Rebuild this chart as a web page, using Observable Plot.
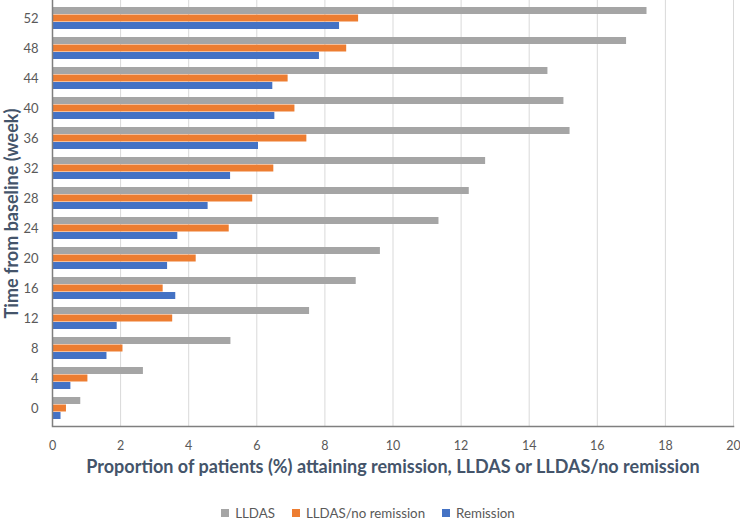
<!DOCTYPE html>
<html>
<head>
<meta charset="utf-8">
<script src="https://cdn.jsdelivr.net/npm/d3@7"></script>
<script src="https://cdn.jsdelivr.net/npm/@observablehq/plot@0.6"></script>
<style>
  html, body { margin: 0; padding: 0; background: #fff; }
  #chart { width: 740px; }
  .legend { display: flex; justify-content: center; align-items: center; gap: 17px; line-height: 16px;
    font-family: Lato, sans-serif; font-size: 13.3px; color: #595959; margin-top: 15px; margin-left: -4px; }
  .legend span.item { display: flex; align-items: center; }
  .legend span.sw { display: inline-block; width: 8px; height: 8px; margin-right: 6px; }
</style>
</head>
<body>
<div id="chart"></div>
<script>
const weeks = [0, 4, 8, 12, 16, 20, 24, 28, 32, 36, 40, 44, 48, 52];
const lldas = [0.83, 2.67, 5.24, 7.55, 8.92, 9.63, 11.35, 12.24, 12.72, 15.20, 15.02, 14.55, 16.86, 17.46];
const lldasNoRemission = [0.41, 1.04, 2.07, 3.53, 3.25, 4.22, 5.19, 5.88, 6.50, 7.47, 7.12, 6.92, 8.64, 8.99];
const remission = [0.25, 0.54, 1.60, 1.90, 3.62, 3.38, 3.68, 4.57, 5.23, 6.05, 6.53, 6.47, 7.84, 8.43];
const seriesNames = ["LLDAS", "LLDAS/no remission", "Remission"];
const seriesColors = ["#A5A5A5", "#ED7D31", "#4472C4"];
const xTicks = [0, 2, 4, 6, 8, 10, 12, 14, 16, 18, 20];
const xTitle = "Proportion of patients (%) attaining remission, LLDAS or LLDAS/no remission";
const yTitle = "Time from baseline (week)";

const seriesValues = [lldas, lldasNoRemission, remission];
const rows = seriesNames.map((s, i) => weeks.map((w, j) => ({week: w, value: seriesValues[i][j], series: s})));

const W = 740, H = 490, mT = 0, mB = 64, mL = 52, mR = 7;
const pIn = 0.26, pOut = 0.13;
const plotH = H - mT - mB;
const step = plotH / (weeks.length - pIn + 2 * pOut);
const bw = step * (1 - pIn);
const t = bw / 3;

const barMarks = rows.map((data, i) => Plot.barX(data, {
  x: "value", y: "week", fill: seriesColors[i],
  insetTop: i * t, insetBottom: (2 - i) * t
}));

const chart = Plot.plot({
  width: W, height: H,
  marginTop: mT, marginBottom: mB, marginLeft: mL, marginRight: mR,
  style: {fontFamily: "Lato, sans-serif", fontSize: "12px", background: "#fff"},
  x: {domain: [0, 20], ticks: xTicks, label: null},
  y: {type: "band", domain: weeks.slice().reverse(), paddingInner: pIn, paddingOuter: pOut, label: null},
  marks: [
    Plot.gridX(xTicks, {stroke: "#D9D9D9", strokeOpacity: 1, strokeWidth: 1}),
    ...barMarks,
    Plot.ruleX([0], {stroke: "#7F7F7F", strokeWidth: 1.5}),
    Plot.frame({anchor: "bottom", stroke: "#7F7F7F", strokeWidth: 1.5}),
    Plot.axisX(xTicks, {tickSize: 0, tickPadding: 15, fill: "#595959", label: null, fontSize: 12.5}),
    Plot.axisY({tickSize: 0, tickPadding: 14, fill: "#595959", label: null, fontSize: 13}),
    Plot.text([xTitle], {frameAnchor: "bottom", dy: 46, fill: "#44546A", fontWeight: "bold", fontSize: 18}),
    Plot.text([yTitle], {frameAnchor: "left", textAnchor: "middle", rotate: -90, dx: -40, fill: "#44546A", fontWeight: "bold", fontSize: 18})
  ]
});
document.getElementById("chart").appendChild(chart);

const legend = document.createElement("div");
legend.className = "legend";
seriesNames.forEach((s, i) => {
  const item = document.createElement("span");
  item.className = "item";
  const sw = document.createElement("span");
  sw.className = "sw";
  sw.style.background = seriesColors[i];
  item.appendChild(sw);
  item.appendChild(document.createTextNode(s));
  legend.appendChild(item);
});
document.getElementById("chart").appendChild(legend);
</script>
</body>
</html>
